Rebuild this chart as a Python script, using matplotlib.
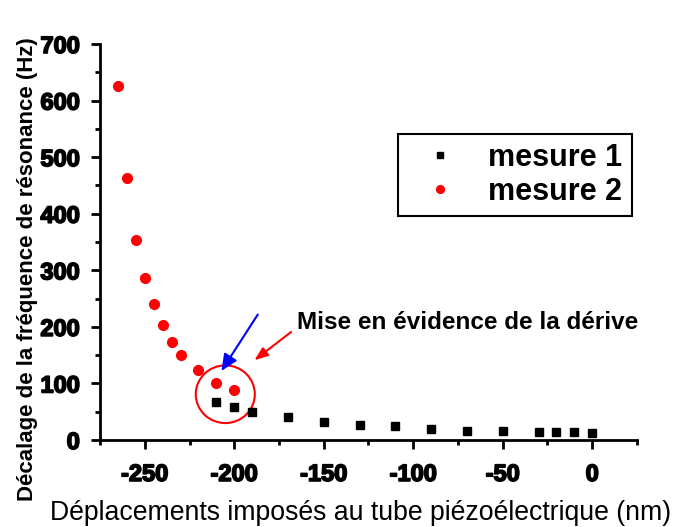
import matplotlib
matplotlib.use('Agg')
import matplotlib.pyplot as plt
import matplotlib.patheffects as pe
from matplotlib.patches import Ellipse
from matplotlib.ticker import MultipleLocator

# mesure 1 (black squares)
x_mesure1 = [-210, -200, -190, -170, -150, -130, -110, -90, -70, -50, -30, -20, -10, 0]
y_mesure1 = [68, 58, 50, 40, 32, 27, 24, 19, 16, 16, 14, 14, 14, 12]

# mesure 2 (red circles)
x_mesure2 = [-265, -260, -255, -250, -245, -240, -235, -230, -220, -210, -200]
y_mesure2 = [625, 463, 353, 287, 240, 204, 174, 151, 124, 101, 88]

labels = ['mesure 1', 'mesure 2']
annotation_text = 'Mise en évidence de la dérive'

plt.rcParams['font.family'] = ['Liberation Sans', 'DejaVu Sans']
plt.rcParams['axes.unicode_minus'] = False

fig = plt.figure(figsize=(6.78, 5.27), dpi=100)
ax = fig.add_axes([0.1475, 0.165, 0.792, 0.7515])

ax.plot(x_mesure1, y_mesure1, 's', color='black', markersize=5.8, label=labels[0])
ax.plot(x_mesure2, y_mesure2, 'o', color='red', markersize=7, label=labels[1])

ax.set_xlim(-275, 25)
ax.set_ylim(0, 700)
ax.xaxis.set_major_locator(MultipleLocator(50))
ax.xaxis.set_minor_locator(MultipleLocator(25))
ax.yaxis.set_major_locator(MultipleLocator(100))
ax.yaxis.set_minor_locator(MultipleLocator(50))

for side in ['top', 'right']:
    ax.spines[side].set_visible(False)
for side in ['left', 'bottom']:
    ax.spines[side].set_linewidth(2)

ax.tick_params(which='major', direction='out', length=6.5, width=2, labelsize=17)
ax.tick_params(which='minor', direction='out', length=3.5, width=2)
ax.tick_params(axis='y', pad=8)
ax.tick_params(axis='x', pad=10)
heavy = [pe.withStroke(linewidth=1.2, foreground='black')]
for lab in ax.get_xticklabels() + ax.get_yticklabels():
    lab.set_fontweight('bold')
    lab.set_path_effects(heavy)

ax.set_xlabel('Déplacements imposés au tube piézoélectrique (nm)', fontsize=19.2)
ax.xaxis.set_label_coords(0.486, -0.152)
ax.set_ylabel('Décalage de la fréquence de résonance (Hz)', fontsize=16, fontweight='bold')
ax.yaxis.set_label_coords(-0.115, 0.432)

# circle around the drifting points
ax.add_patch(Ellipse((-205, 81), 33, 102, fill=False, edgecolor='red', linewidth=1.5))

ax.annotate('', xy=(-208, 118), xytext=(-186, 226),
            arrowprops=dict(arrowstyle='-|>,head_length=1.0,head_width=0.45', color='blue', lw=1.5))
ax.annotate('', xy=(-190, 138), xytext=(-167, 194),
            arrowprops=dict(arrowstyle='-|>,head_length=0.8,head_width=0.3', color='red', lw=1.5))
ax.text(-165, 208, annotation_text, fontsize=17.5, fontweight='bold', va='center', ha='left')

leg = ax.legend(loc='upper left', bbox_to_anchor=(0.555, 0.773), prop={'size': 22, 'weight': 'bold'},
                fancybox=False, edgecolor='black', framealpha=1, handletextpad=0.5,
                handlelength=2.16, borderpad=0.3, labelspacing=0.13, borderaxespad=0,
                markerscale=0.8)
leg.get_frame().set_linewidth(1.5)

fig.savefig('out.png', dpi=100)
